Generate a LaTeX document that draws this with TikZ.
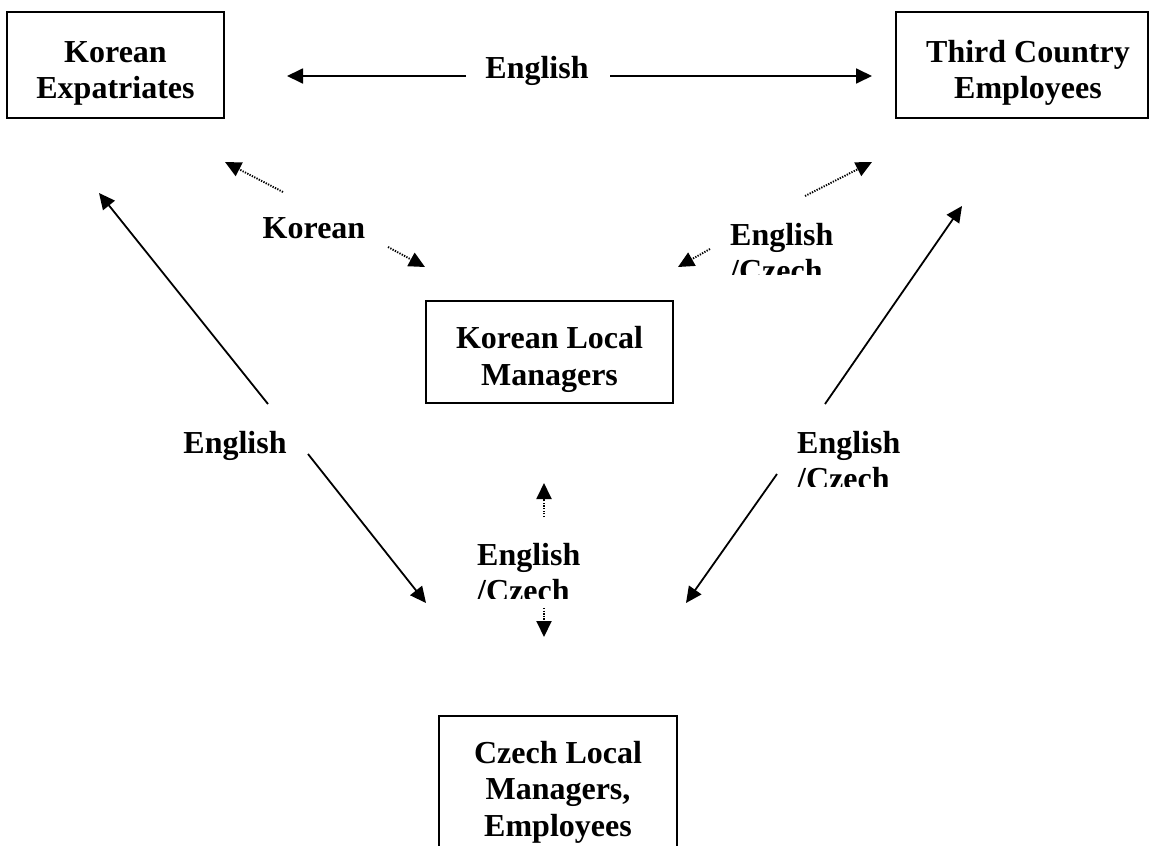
\documentclass[tikz,border=0pt]{standalone}
\usepackage{fontspec}
\setmainfont{Liberation Serif}
\usetikzlibrary{arrows.meta}
\newcommand\bigbold{\fontsize{32}{36.7}\selectfont\bfseries}
\tikzset{
  box/.style={draw, line width=1.6pt, inner sep=0pt, align=center, font=\bigbold},
  lbl/.style={inner sep=0pt, font=\bigbold},
  mlbl/.style={inner sep=0pt, font=\bigbold, align=left, anchor=north west},
  solidarr/.style={-{Triangle[length=16pt,width=15pt]}, line width=1.8pt},
  dotarr/.style={-{Triangle[length=16pt,width=15pt]}, line width=1.9pt, dash pattern=on 1.3pt off 1.3pt},
}
\begin{document}
\begin{tikzpicture}[x=1pt,y=-1pt]
\useasboundingbox (0,0) rectangle (1149,846);
\clip (0,0) rectangle (1149,846);

% boxes
\node[box, minimum width=217pt, minimum height=106pt] (ke) at (115.5,65)
  {\rule{0pt}{40.7pt}Korean\\Expatriates\rule[-10pt]{0pt}{10pt}};
\node[box, minimum width=252pt, minimum height=106pt] (tc) at (1022,65)
  {\rule{0pt}{40.7pt}\hspace*{12pt}Third Country\\\hspace*{12pt}Employees\rule[-10pt]{0pt}{10pt}};
\node[box, minimum width=247pt, minimum height=102pt] (klm) at (549.5,352)
  {\rule{0pt}{39.3pt}Korean Local\\Managers\rule[-10pt]{0pt}{10pt}};
\node[box, minimum width=238pt, minimum height=139pt] (clm) at (558,785.5)
  {\rule{0pt}{38.4pt}Czech Local\\Managers,\\Employees\rule[-10pt]{0pt}{10pt}};

% labels
\node[lbl, anchor=base] (entop) at (537,78) {English};
\node[lbl, anchor=base] (kor) at (314,238) {Korean};
\node[lbl, anchor=base] (enleft) at (235,453) {English};
\begin{scope}
  \clip (700,200) rectangle (860,274);
  \node[mlbl] (enru) at (730,215) {\rule{0pt}{30pt}English\\/Czech};
\end{scope}
\begin{scope}
  \clip (780,410) rectangle (920,486);
  \node[mlbl] (enrm) at (797,423) {\rule{0pt}{30pt}English\\/Czech};
\end{scope}
\begin{scope}
  \clip (460,520) rectangle (600,598);
  \node[mlbl] (enmid) at (477,535) {\rule{0pt}{30pt}English\\/Czech};
\end{scope}

% connector end points
\coordinate (a1s) at (466,76);  \coordinate (a1t) at (287,76);
\coordinate (a2s) at (610,76);  \coordinate (a2t) at (872,76);
\coordinate (a3s) at (283,192); \coordinate (a3t) at (225,162);
\coordinate (a4s) at (388,247); \coordinate (a4t) at (425,267);
\coordinate (a5s) at (805,196); \coordinate (a5t) at (872,162);
\coordinate (a6s) at (710,249); \coordinate (a6t) at (678,267);
\coordinate (a7s) at (268,404); \coordinate (a7t) at (99,193);
\coordinate (a8s) at (308,454); \coordinate (a8t) at (426,603);
\coordinate (a9s) at (825,404); \coordinate (a9t) at (962,206);
\coordinate (a10s) at (777,474); \coordinate (a10t) at (686,603);
\coordinate (a11s) at (544,517); \coordinate (a11t) at (544,483);
\coordinate (a12s) at (544,608); \coordinate (a12t) at (544,637);

\draw[solidarr] (a1s) -- (a1t);
\draw[solidarr] (a2s) -- (a2t);
\draw[dotarr] (a3s) -- (a3t);
\draw[dotarr] (a4s) -- (a4t);
\draw[dotarr] (a5s) -- (a5t);
\draw[dotarr] (a6s) -- (a6t);
\draw[solidarr] (a7s) -- (a7t);
\draw[solidarr] (a8s) -- (a8t);
\draw[solidarr] (a9s) -- (a9t);
\draw[solidarr] (a10s) -- (a10t);
\draw[dotarr] (a11s) -- (a11t);
\draw[dotarr] (a12s) -- (a12t);
\end{tikzpicture}
\end{document}
